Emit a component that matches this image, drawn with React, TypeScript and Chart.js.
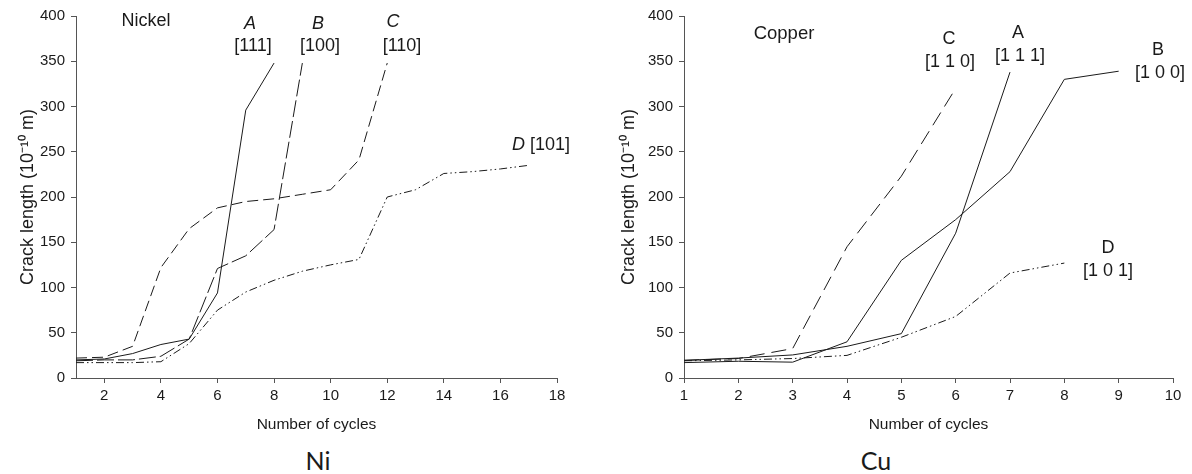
import React, { useEffect, useRef } from "react";
import { Chart, registerables } from "chart.js";

Chart.register(...registerables);

// ---------- Nickel data ----------
const niCyclesA = [1, 2, 3, 4, 5, 6, 7, 8];
const niA = [20, 21, 27, 37, 43, 94, 296, 348];
const niCyclesB = [1, 2, 3, 4, 5, 6, 7, 8, 9];
const niB = [19, 20, 20, 24, 43, 121, 135, 164, 348];
const niCyclesC = [1, 2, 3, 4, 5, 6, 7, 8, 9, 10, 11, 12];
const niC = [22, 23, 35, 122, 165, 188, 195, 198, 203, 208, 241, 348];
const niCyclesD = [1, 2, 3, 4, 5, 6, 7, 8, 9, 10, 11, 12, 13, 14, 15, 16, 17];
const niD = [17, 17, 17, 18, 38, 75, 95, 108, 118, 125, 131, 200, 208, 226, 228, 231, 235];
const niXTicks = [2, 4, 6, 8, 10, 12, 14, 16, 18];

// ---------- Copper data ----------
const cuCyclesA = [1, 2, 3, 4, 5, 6, 7];
const cuA = [19.5, 22, 25.5, 35, 49, 160, 338];
const cuCyclesB = [1, 2, 3, 4, 5, 6, 7, 8, 9];
const cuB = [17, 18.5, 17.5, 40, 130, 175, 228, 330, 339];
const cuCyclesC = [1, 2, 3, 4, 5, 6];
const cuC = [19.5, 21.5, 32.5, 145, 223, 320];
const cuCyclesD = [1, 2, 3, 4, 5, 6, 7, 8];
const cuD = [19, 20, 21.5, 25, 45, 68, 116, 127];
const cuXTicks = [1, 2, 3, 4, 5, 6, 7, 8, 9, 10];

const yTicks = [0, 50, 100, 150, 200, 250, 300, 350, 400];

const FONT = "'Liberation Sans', Arial, sans-serif";
const INK = "#1a1a1a";
const AXIS = "#555555";

const pts = (xs: number[], ys: number[]) => xs.map((x, i) => ({ x, y: ys[i] }));

function ds(data: { x: number; y: number }[], dash: number[]) {
  return {
    data,
    borderColor: INK,
    borderWidth: 1,
    borderDash: dash,
    pointRadius: 0,
    tension: 0,
    fill: false,
  };
}

interface PanelProps {
  left: number;
  width: number;
  yWidth: number;
  rightPad: number;
  yTitlePad: number;
  xMax: number;
  xTicks: number[];
  datasets: any[];
}

function Panel(p: PanelProps) {
  const ref = useRef<HTMLCanvasElement>(null);
  useEffect(() => {
    if (!ref.current) return;
    const grid = {
      display: true,
      drawOnChartArea: false,
      drawTicks: true,
      tickLength: 5,
      color: AXIS,
    };
    const chart = new Chart(ref.current, {
      type: "line",
      data: { datasets: p.datasets },
      options: {
        animation: false,
        responsive: false,
        layout: { padding: { top: 16, right: p.rightPad, left: 0, bottom: 0 } },
        plugins: { legend: { display: false }, tooltip: { enabled: false } },
        scales: {
          x: {
            type: "linear",
            min: 1,
            max: p.xMax,
            grid,
            border: { display: true, color: AXIS, width: 1 },
            ticks: { color: INK, font: { family: FONT, size: 15 }, padding: 4, maxRotation: 0 },
            afterBuildTicks: (s: any) => {
              s.ticks = p.xTicks.map((v) => ({ value: v }));
            },
            afterFit: (s: any) => {
              s.height = 62;
            },
            title: {
              display: true,
              text: "Number of cycles",
              color: INK,
              font: { family: FONT, size: 15.5 },
              padding: { top: 0, bottom: 6 },
            },
          },
          y: {
            type: "linear",
            min: 0,
            max: 400,
            grid,
            border: { display: true, color: AXIS, width: 1 },
            ticks: { color: INK, font: { family: FONT, size: 15 }, padding: 6 },
            afterBuildTicks: (s: any) => {
              s.ticks = yTicks.map((v) => ({ value: v }));
            },
            afterFit: (s: any) => {
              s.width = p.yWidth;
            },
            title: {
              display: true,
              text: "Crack length (10\u207B\u00B9\u2070 m)",
              color: INK,
              font: { family: FONT, size: 18 },
              padding: { top: p.yTitlePad, bottom: 0 },
            },
          },
        },
      },
    } as any);
    return () => chart.destroy();
  }, []);
  return (
    <canvas
      ref={ref}
      width={p.width}
      height={440}
      style={{ position: "absolute", left: p.left, top: 0, width: p.width, height: 440 }}
    />
  );
}

interface Lbl {
  t: React.ReactNode;
  x: number;
  y: number;
  size?: number;
  italic?: boolean;
  family?: string;
}

const labels: Lbl[] = [
  { t: "Nickel", x: 146, y: 20, size: 18 },
  { t: "A", x: 250, y: 23, italic: true },
  { t: "[111]", x: 253, y: 45 },
  { t: "B", x: 318, y: 23, italic: true },
  { t: "[100]", x: 320, y: 45 },
  { t: "C", x: 393, y: 21, italic: true },
  { t: "[110]", x: 402, y: 45 },
  {
    t: (
      <span>
        <i>D</i> [101]
      </span>
    ),
    x: 541,
    y: 144,
  },
  { t: "Copper", x: 784, y: 33, size: 18.5 },
  { t: "C", x: 949, y: 38 },
  { t: "[1 1 0]", x: 950, y: 61 },
  { t: "A", x: 1018, y: 32 },
  { t: "[1 1 1]", x: 1020, y: 55 },
  { t: "B", x: 1158, y: 49 },
  { t: "[1 0 0]", x: 1160, y: 72 },
  { t: "D", x: 1108, y: 247 },
  { t: "[1 0 1]", x: 1108, y: 270 },
  { t: "Ni", x: 318, y: 460, size: 25, family: "Lato, 'Open Sans', sans-serif" },
  { t: "Cu", x: 876, y: 460, size: 25, family: "Lato, 'Open Sans', sans-serif" },
];

export default function App() {
  const niSets = [
    ds(pts(niCyclesA, niA), []),
    ds(pts(niCyclesB, niB), [17, 4]),
    ds(pts(niCyclesC, niC), [11, 5]),
    ds(pts(niCyclesD, niD), [8, 3, 1.5, 3, 1.5, 3]),
  ];
  const cuSets = [
    ds(pts(cuCyclesA, cuA), []),
    ds(pts(cuCyclesB, cuB), []),
    ds(pts(cuCyclesC, cuC), [15, 7]),
    ds(pts(cuCyclesD, cuD), [8, 3, 1.5, 3, 1.5, 3]),
  ];
  return (
    <div
      style={{
        position: "absolute",
        left: 0,
        top: 0,
        width: 1192,
        height: 474,
        background: "#fff",
        overflow: "hidden",
      }}
    >
      <Panel left={0} width={595} yWidth={76} rightPad={38} yTitlePad={17} xMax={18} xTicks={niXTicks} datasets={niSets} />
      <Panel left={595} width={597} yWidth={89} rightPad={19} yTitlePad={23} xMax={10} xTicks={cuXTicks} datasets={cuSets} />
      {labels.map((l, i) => (
        <div
          key={i}
          style={{
            position: "absolute",
            left: l.x,
            top: l.y,
            transform: "translate(-50%, -50%)",
            whiteSpace: "nowrap",
            fontFamily: l.family || FONT,
            fontSize: l.size || 18,
            fontStyle: l.italic ? "italic" : "normal",
            color: INK,
            lineHeight: 1,
          }}
        >
          {l.t}
        </div>
      ))}
    </div>
  );
}
